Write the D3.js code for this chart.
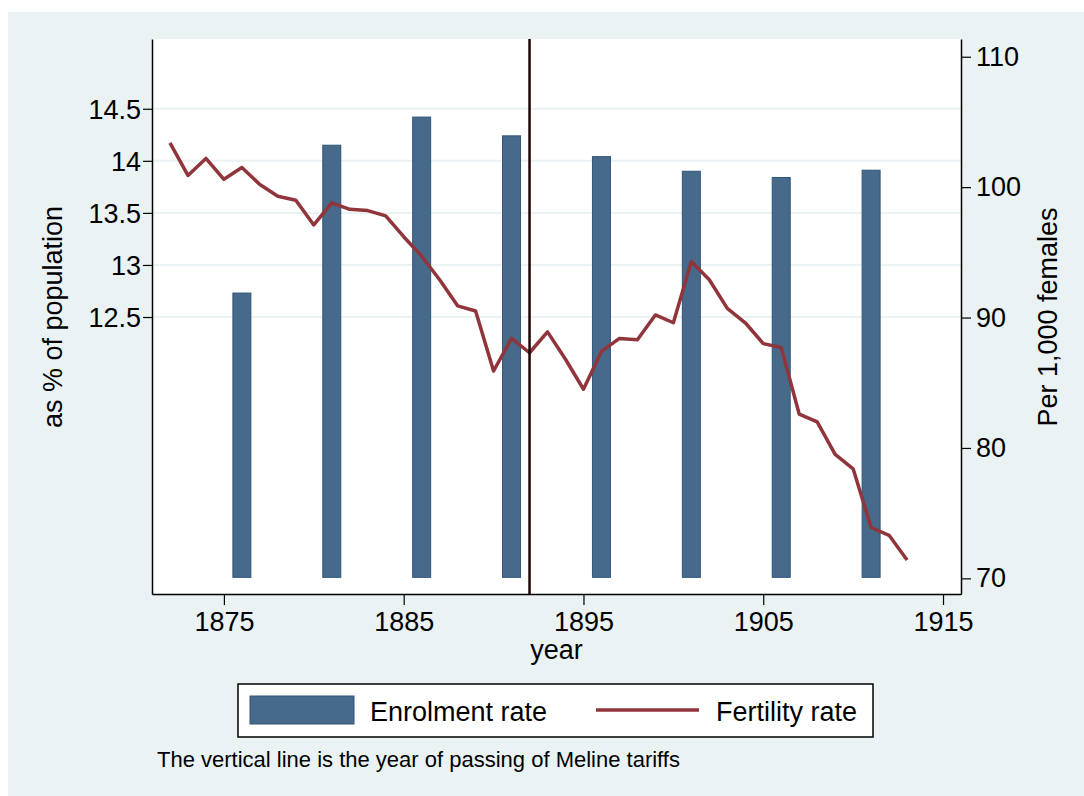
<!DOCTYPE html>
<html>
<head>
<meta charset="utf-8">
<script src="https://cdn.jsdelivr.net/npm/d3@7"></script>
<style>
  body { margin: 0; background: #fff; }
  text { font-family: "Liberation Sans", Arial, sans-serif; fill: #000; }
</style>
</head>
<body>
<svg id="chart" width="1084" height="796"></svg>
<script>
// enrolment rate (census years), % of population
let barYears = [1876, 1881, 1886, 1891, 1896, 1901, 1906, 1911];
let enrolment = [12.73, 14.15, 14.42, 14.24, 14.04, 13.90, 13.84, 13.91];

// fertility rate, per 1,000 females
let lineYears = d3.range(1872, 1914);
let fertility = [103.4, 100.9, 102.2, 100.6, 101.5, 100.2, 99.3, 99.0, 97.1, 98.8,
  98.3, 98.2, 97.8, 96.2, 94.7, 92.9, 90.9, 90.5, 85.9, 88.4,
  87.3, 88.9, 86.8, 84.5, 87.4, 88.4, 88.3, 90.2, 89.6, 94.3,
  92.9, 90.7, 89.6, 88.0, 87.7, 82.6, 82.0, 79.5, 78.4, 73.9,
  73.3, 71.4];

let xTicks = [1875, 1885, 1895, 1905, 1915];
let leftTicks = [12.5, 13, 13.5, 14, 14.5];
let rightTicks = [70, 80, 90, 100, 110];
let tariffYear = 1892;

let svg = d3.select("#chart");
let plot = {left: 152, right: 961, top: 39, bottom: 594};

let barColor = "#476a8b", lineColor = "#90353b", bg = "#eaf2f3";

let x = d3.scaleLinear().domain([1871, 1916]).range([plot.left, plot.right]);
let yL = d3.scaleLinear().domain([9.84, 15.17]).range([plot.bottom, plot.top]);
let yR = d3.scaleLinear().domain([68.8, 111.36]).range([plot.bottom, plot.top]);

// backgrounds
svg.append("rect").attr("x", 8).attr("y", 12).attr("width", 1076).attr("height", 784).attr("fill", bg);
svg.append("rect")
  .attr("x", plot.left).attr("y", plot.top)
  .attr("width", plot.right - plot.left).attr("height", plot.bottom - plot.top)
  .attr("fill", "#fff");

// grid
svg.append("g")
  .selectAll("line")
  .data(leftTicks)
  .join("line")
  .attr("x1", plot.left).attr("x2", plot.right)
  .attr("y1", d => yL(d)).attr("y2", d => yL(d))
  .attr("stroke", bg).attr("stroke-width", 2);

// bars
svg.append("g")
  .selectAll("rect")
  .data(barYears)
  .join("rect")
  .attr("x", d => x(d - 0.5))
  .attr("width", x(1.5) - x(0.5))
  .attr("y", (d, i) => yL(enrolment[i]))
  .attr("height", (d, i) => yL(10) - yL(enrolment[i]))
  .attr("fill", barColor)
  .attr("stroke", "#2f5579")
  .attr("stroke-width", 1);

// fertility line
let line = d3.line()
  .x((d, i) => x(lineYears[i]))
  .y(d => yR(d));

svg.append("path")
  .datum(fertility)
  .attr("d", line)
  .attr("fill", "none")
  .attr("stroke", lineColor)
  .attr("stroke-width", 3.5)
  .attr("stroke-linejoin", "round");

// vertical line at Meline tariffs
svg.append("line")
  .attr("x1", x(tariffYear)).attr("x2", x(tariffYear))
  .attr("y1", plot.top).attr("y2", plot.bottom)
  .attr("stroke", "#1c0406").attr("stroke-width", 2.5);

// axes
let fmt = d3.format("");
let xAxis = svg.append("g")
  .attr("transform", `translate(0,${plot.bottom})`)
  .call(d3.axisBottom(x).tickValues(xTicks).tickFormat(fmt).tickSize(11).tickPadding(5).tickSizeOuter(0));
let lAxis = svg.append("g")
  .attr("transform", `translate(${plot.left},0)`)
  .call(d3.axisLeft(yL).tickValues(leftTicks).tickFormat(fmt).tickSize(9).tickPadding(2).tickSizeOuter(0));
let rAxis = svg.append("g")
  .attr("transform", `translate(${plot.right},0)`)
  .call(d3.axisRight(yR).tickValues(rightTicks).tickFormat(fmt).tickSize(10).tickPadding(5).tickSizeOuter(0));

[xAxis, lAxis, rAxis].forEach(a => {
  a.select(".domain").attr("stroke", "#000").attr("stroke-width", 1.5);
  a.selectAll(".tick line").attr("stroke", "#000").attr("stroke-width", 1.2);
  a.selectAll(".tick text").style("font-size", "27px").attr("fill", "#000")
    .attr("font-family", "Liberation Sans, Arial, sans-serif");
});
xAxis.selectAll(".tick text").attr("dy", null).attr("y", 37);
lAxis.selectAll(".tick text").attr("dy", "0.35em");

// axis titles
svg.append("text")
  .attr("transform", "translate(62,317) rotate(-90)")
  .attr("text-anchor", "middle")
  .style("font-size", "27px")
  .text("as % of population");
svg.append("text")
  .attr("transform", "translate(1057,317) rotate(-90)")
  .attr("text-anchor", "middle")
  .style("font-size", "27px")
  .text("Per 1,000 females");
svg.append("text")
  .attr("x", (plot.left + plot.right) / 2).attr("y", 659)
  .attr("text-anchor", "middle")
  .style("font-size", "27px")
  .text("year");

// legend
let legend = svg.append("g");
legend.append("rect")
  .attr("x", 238).attr("y", 684).attr("width", 635).attr("height", 53)
  .attr("fill", "#fff").attr("stroke", "#000").attr("stroke-width", 1.5);
legend.append("rect")
  .attr("x", 250).attr("y", 696).attr("width", 104).attr("height", 28)
  .attr("fill", barColor).attr("stroke", "#2f5579").attr("stroke-width", 1);
legend.append("text").attr("x", 370).attr("y", 720.5).style("font-size", "27px").text("Enrolment rate");
legend.append("line")
  .attr("x1", 596).attr("x2", 699).attr("y1", 710).attr("y2", 710)
  .attr("stroke", lineColor).attr("stroke-width", 3.5);
legend.append("text").attr("x", 716).attr("y", 720.5).style("font-size", "27px").text("Fertility rate");

// note
svg.append("text")
  .attr("x", 157).attr("y", 766.5)
  .style("font-size", "22px")
  .text("The vertical line is the year of passing of Meline tariffs");
</script>
</body>
</html>
